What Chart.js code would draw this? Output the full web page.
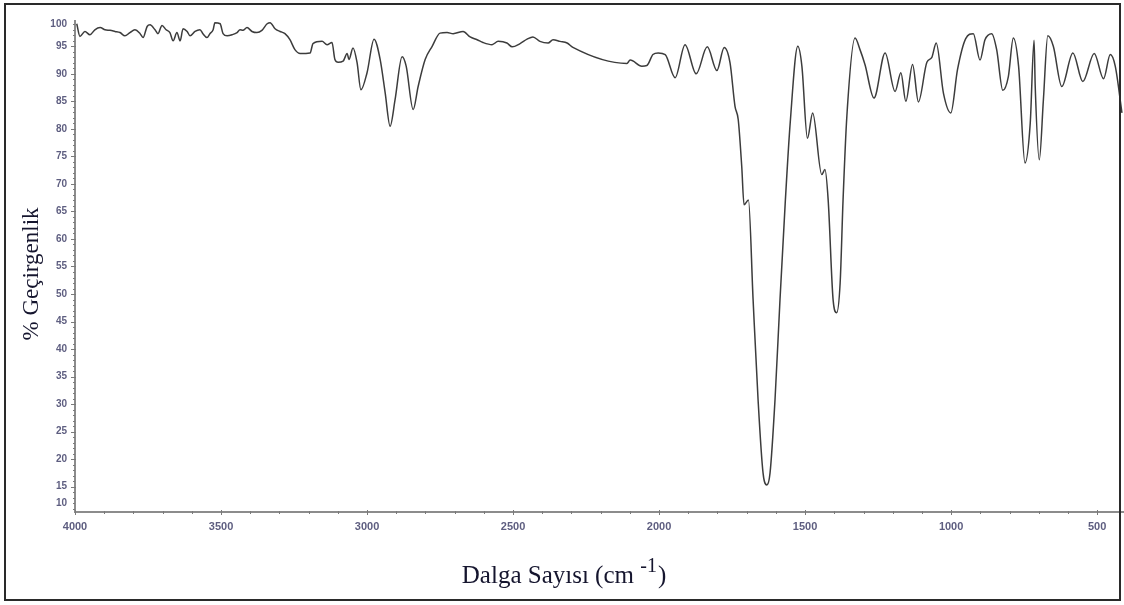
<!DOCTYPE html>
<html>
<head>
<meta charset="utf-8">
<script src="https://cdn.jsdelivr.net/npm/chart.js@4.4.1/dist/chart.umd.min.js"></script>
<style>
  html, body { margin: 0; padding: 0; background: #ffffff; }
  #wrap { position: relative; width: 1124px; height: 605px; }
</style>
</head>
<body>
<div id="wrap"><canvas id="c" width="1124" height="605"></canvas></div>
<script>
// ---- data ----
const wavenumbers = [
  3994,3983,3966,3949,3932,3914,3897,3880,3863,3846,3829,3812,3795,3777,3767,3753,3743,3726,3716,3702,
  3688,3675,3664,3651,3640,3630,3616,3606,3589,3572,3562,3548,3538,3527,3521,3503,3493,3479,3462,3445,
  3435,3425,3411,3394,3377,3360,3342,3332,3315,3298,3281,3264,3247,3229,3195,3185,3154,3137,3120,3110,
  3099,3082,3068,3062,3048,3034,3021,3000,2976,2955,2938,2921,2904,2880,2866,2842,2825,2801,2777,2750,
  2726,2705,2671,2647,2623,2603,2572,2551,2521,2503,2476,2452,2432,2408,2380,2363,2339,2315,2295,2110,
  2099,2059,2042,2021,2003,1979,1945,1911,1873,1835,1802,1777,1757,1740,1729,1717,1709,1694,1678,1661,
  1644,1631,1620,1603,1586,1568,1551,1525,1511,1492,1474,1443,1432,1421,1404,1392,1380,1370,1357,1329,
  1312,1295,1264,1226,1192,1172,1155,1132,1112,1083,1066,1051,1026,1001,978,950,924,901,884,861,
  844,823,804,787,769,747,729,716,712,698,684,669,650,621,583,549,510,478,455,438,415
];
const transmittance = [
  99.1,96.8,97.7,97.1,98.0,98.4,98.0,97.9,97.7,97.5,96.9,97.5,98.0,97.3,96.6,98.6,98.9,98.0,97.3,98.8,
  98.0,97.5,96.0,97.5,96.0,98.2,97.7,96.9,97.7,98.0,97.3,96.6,97.3,98.0,99.3,99.1,97.3,96.9,97.1,97.5,
  98.0,97.9,98.4,97.7,97.5,97.9,99.1,99.3,98.2,97.7,97.3,96.2,94.4,93.7,93.8,95.5,95.9,95.3,95.7,92.6,
  92.1,92.3,93.7,92.6,94.7,92.0,87.1,90.2,96.3,92.6,86.6,80.5,85.3,93.1,91.4,83.5,87.7,92.6,95.0,97.4,
  97.5,97.3,97.7,96.7,96.2,95.7,95.3,95.9,95.6,94.9,95.5,96.3,96.7,95.9,95.6,96.2,95.9,95.6,94.8,91.9,
  92.5,91.4,91.5,93.5,93.8,93.5,89.3,95.3,90.0,94.9,90.6,94.8,92.0,84.1,81.7,73.2,66.2,67.1,48.9,30.8,
  17.5,15.3,17.5,30.8,48.9,66.6,81.1,95.0,91.4,78.3,82.9,71.7,72.6,67.1,48.9,46.6,52.0,67.1,82.3,96.5,
  94.4,91.7,85.6,93.8,86.8,90.2,85.0,91.7,84.9,92.1,93.0,95.6,86.4,82.9,90.8,96.4,97.3,92.5,96.2,97.3,
  94.4,87.0,89.5,96.5,91.4,73.8,81.1,96.1,87.7,74.4,85.3,96.9,95.0,87.7,93.8,88.6,93.7,89.1,93.5,91.4,82.9
];
const xTicks = [4000, 3500, 3000, 2500, 2000, 1500, 1000, 500];
const yTicks = [10, 15, 20, 25, 30, 35, 40, 45, 50, 55, 60, 65, 70, 75, 80, 85, 90, 95, 100];
const xTitle = "Dalga Sayısı (cm";
const xTitleSup = "-1";
const yTitle = "% Geçirgenlik";

// ---- chart ----
const X_MIN = 408, X_MAX = 4000, Y_MIN = 10.4, Y_MAX = 99.6;
const tickColor = '#5e5e80';

const decor = {
  id: 'decor',
  afterDraw(chart) {
    const ctx = chart.ctx;
    const xs = chart.scales.x, ys = chart.scales.y;
    const area = chart.chartArea;
    ctx.save();
    // minor / major ticks on x axis
    ctx.strokeStyle = '#7a7a7a';
    ctx.lineWidth = 1;
    for (let v = 500; v <= 4000; v += 100) {
      const px = Math.round(xs.getPixelForValue(v)) + 0.5;
      const major = v % 500 === 0;
      ctx.beginPath();
      ctx.moveTo(px, area.bottom - (major ? 2 : 1));
      ctx.lineTo(px, area.bottom + (major ? 3 : 2));
      ctx.stroke();
    }
    // minor / major ticks on y axis
    for (let v = 11; v <= 99; v += 1) {
      const py = Math.round(ys.getPixelForValue(v)) + 0.5;
      const major = v % 5 === 0;
      ctx.beginPath();
      ctx.moveTo(area.left - (major ? 4 : 2), py);
      ctx.lineTo(area.left + (major ? 1 : 0), py);
      ctx.stroke();
    }
    // y title
    ctx.fillStyle = '#15152e';
    ctx.font = "23px 'Liberation Serif', 'Times New Roman', serif";
    ctx.translate(32, 274);
    ctx.rotate(-Math.PI / 2);
    ctx.textAlign = 'center';
    ctx.textBaseline = 'middle';
    ctx.fillText(yTitle, 0, 0);
    ctx.setTransform(1, 0, 0, 1, 0, 0);
    // x title with superscript
    const mainFont = "25px 'Liberation Serif', 'Times New Roman', serif";
    const supFont = "20px 'Liberation Serif', 'Times New Roman', serif";
    ctx.font = mainFont;
    const w1 = ctx.measureText(xTitle + ' ').width;
    const w3 = ctx.measureText(')').width;
    ctx.font = supFont;
    const w2 = ctx.measureText(xTitleSup).width;
    const total = w1 + w2 + w3 + 1;
    let x0 = 564 - total / 2;
    const base = 583;
    ctx.textAlign = 'left';
    ctx.textBaseline = 'alphabetic';
    ctx.font = mainFont;
    ctx.fillText(xTitle + ' ', x0, base);
    ctx.font = supFont;
    ctx.fillText(xTitleSup, x0 + w1, base - 11);
    ctx.font = mainFont;
    ctx.fillText(')', x0 + w1 + w2 + 1, base);
    // outer frame
    ctx.strokeStyle = '#2a2a2a';
    ctx.lineWidth = 2;
    ctx.strokeRect(5, 4, 1115, 596);
    ctx.restore();
  }
};

new Chart(document.getElementById('c'), {
  type: 'line',
  data: {
    datasets: [{
      data: wavenumbers.map((w, i) => ({ x: w, y: transmittance[i] })),
      borderColor: '#3c3c3c',
      borderWidth: 1.5,
      pointRadius: 0,
      fill: false,
      cubicInterpolationMode: 'monotone'
    }]
  },
  options: {
    responsive: false,
    animation: false,
    devicePixelRatio: 1,
    layout: { padding: { top: 21, right: 0, bottom: 0, left: 0 } },
    plugins: { legend: { display: false }, tooltip: { enabled: false } },
    scales: {
      x: {
        type: 'linear',
        reverse: true,
        min: X_MIN,
        max: X_MAX,
        afterBuildTicks: s => { s.ticks = xTicks.map(v => ({ value: v })); },
        afterFit: s => { s.height = 93; },
        grid: { display: false },
        border: { display: true, color: '#8c8c8c', width: 2 },
        ticks: {
          font: { family: "'Liberation Sans', Arial, sans-serif", size: 11, weight: 'bold' },
          color: tickColor, padding: 0, maxRotation: 0,
          callback: (v) => String(v)
        }
      },
      y: {
        type: 'linear',
        min: Y_MIN,
        max: Y_MAX,
        afterBuildTicks: s => {
          s.ticks = yTicks.map(v => ({ value: Math.min(Math.max(v, Y_MIN + 1.5), Y_MAX - 0.6) }));
        },
        afterFit: s => { s.width = 75; },
        grid: { display: false },
        border: { display: true, color: '#8c8c8c', width: 2 },
        ticks: {
          font: { family: "'Liberation Sans', Arial, sans-serif", size: 10, weight: 'bold' },
          color: tickColor, padding: 0,
          callback: (v, i) => String(yTicks[i])
        }
      }
    }
  },
  plugins: [decor]
});
</script>
</body>
</html>
